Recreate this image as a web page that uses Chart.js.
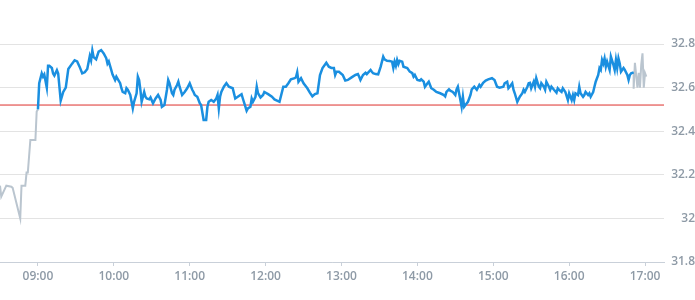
<!DOCTYPE html>
<html>
<head>
<meta charset="utf-8">
<script src="https://cdn.jsdelivr.net/npm/chart.js@4.4.1/dist/chart.umd.min.js"></script>
<style>
    html, body { margin: 0; padding: 0; background: #fff; }
</style>
</head>
<body>
<canvas id="priceChart" width="695" height="300"></canvas>
<script>
// pre-market (grey)
let preTimes = ["08:30", "08:31", "08:35", "08:39", "08:40", "08:46", "08:47", "08:50", "08:51", "08:52", "08:54", "08:58", "08:59", "09:00"];
let prePrices = [32.15, 32.10, 32.15, 32.145, 32.14, 32.00, 32.15, 32.15, 32.21, 32.21, 32.36, 32.36, 32.49, 32.50];

// trading session (blue)
let sessionTimes = [
    "09:00", "09:01", "09:03", "09:04", "09:05", "09:07", "09:08", "09:09", "09:11", "09:12", "09:13", "09:15", "09:16", "09:18", "09:20", "09:22", "09:24", "09:27", "09:29", "09:31",
    "09:33", "09:35", "09:37", "09:39", "09:41", "09:42", "09:43", "09:44", "09:46", "09:48", "09:50", "09:52", "09:54", "09:55", "09:56", "09:58", "09:59", "10:01", "10:02", "10:03",
    "10:05", "10:06", "10:07", "10:09", "10:10", "10:11", "10:13", "10:15", "10:16", "10:18", "10:19", "10:20", "10:21", "10:22", "10:24", "10:25", "10:26", "10:28", "10:29", "10:31",
    "10:33", "10:35", "10:37", "10:38", "10:40", "10:42", "10:43", "10:44", "10:46", "10:47", "10:48", "10:50", "10:51", "10:52", "10:54", "10:56", "10:58", "11:00", "11:02", "11:03",
    "11:04", "11:06", "11:08", "11:09", "11:11", "11:13", "11:14", "11:15", "11:17", "11:19", "11:21", "11:22", "11:23", "11:24", "11:25", "11:27", "11:29", "11:31", "11:34", "11:36",
    "11:38", "11:41", "11:42", "11:45", "11:46", "11:48", "11:49", "11:50", "11:52", "11:53", "11:54", "11:56", "11:58", "11:59", "12:02", "12:05", "12:07", "12:11", "12:14", "12:16",
    "12:18", "12:20", "12:23", "12:24", "12:25", "12:26", "12:28", "12:30", "12:33", "12:35", "12:37", "12:39", "12:41", "12:43", "12:45", "12:48", "12:50", "12:52", "12:54", "12:55",
    "12:56", "12:58", "13:01", "13:03", "13:05", "13:08", "13:11", "13:13", "13:14", "13:15", "13:17", "13:19", "13:20", "13:23", "13:24", "13:25", "13:27", "13:29", "13:31", "13:33",
    "13:34", "13:36", "13:38", "13:40", "13:41", "13:42", "13:43", "13:44", "13:45", "13:46", "13:48", "13:49", "13:52", "13:54", "13:56", "13:57", "13:58", "14:00", "14:02", "14:03",
    "14:05", "14:06", "14:08", "14:09", "14:11", "14:13", "14:15", "14:18", "14:21", "14:22", "14:23", "14:25", "14:26", "14:28", "14:30", "14:31", "14:32", "14:34", "14:35", "14:36",
    "14:37", "14:38", "14:40", "14:42", "14:43", "14:45", "14:47", "14:49", "14:50", "14:52", "14:54", "14:56", "14:59", "15:01", "15:03", "15:05", "15:08", "15:09", "15:11", "15:12",
    "15:13", "15:15", "15:16", "15:17", "15:19", "15:21", "15:23", "15:24", "15:25", "15:27", "15:28", "15:29", "15:30", "15:32", "15:33", "15:34", "15:36", "15:37", "15:38", "15:40",
    "15:41", "15:42", "15:44", "15:45", "15:46", "15:48", "15:50", "15:51", "15:52", "15:54", "15:55", "15:57", "15:59", "16:00", "16:02", "16:03", "16:04", "16:05", "16:07", "16:08",
    "16:09", "16:11", "16:12", "16:13", "16:15", "16:16", "16:17", "16:19", "16:20", "16:21", "16:23", "16:24", "16:25", "16:26", "16:27", "16:28", "16:29", "16:30", "16:32", "16:33",
    "16:35", "16:36", "16:37", "16:38", "16:39", "16:40", "16:41", "16:43", "16:44", "16:46", "16:47", "16:48", "16:49", "16:51"
];
let sessionPrices = [
    32.50, 32.62, 32.665, 32.65, 32.66, 32.60, 32.70, 32.70, 32.69, 32.665, 32.655, 32.68, 32.665, 32.54, 32.58, 32.60, 32.685, 32.71, 32.725, 32.72,
    32.695, 32.665, 32.67, 32.685, 32.745, 32.725, 32.77, 32.74, 32.73, 32.765, 32.772, 32.757, 32.735, 32.71, 32.72, 32.68, 32.66, 32.635, 32.65, 32.64,
    32.62, 32.597, 32.58, 32.574, 32.597, 32.59, 32.566, 32.505, 32.535, 32.574, 32.65, 32.635, 32.59, 32.535, 32.58, 32.558, 32.55, 32.546, 32.555, 32.528,
    32.55, 32.566, 32.543, 32.512, 32.52, 32.59, 32.635, 32.62, 32.574, 32.566, 32.59, 32.612, 32.627, 32.604, 32.566, 32.58, 32.597, 32.62, 32.59, 32.58,
    32.566, 32.558, 32.528, 32.52, 32.451, 32.451, 32.512, 32.535, 32.543, 32.535, 32.55, 32.566, 32.505, 32.558, 32.58, 32.604, 32.62, 32.604, 32.597, 32.55,
    32.558, 32.57, 32.55, 32.494, 32.505, 32.512, 32.55, 32.535, 32.558, 32.604, 32.574, 32.555, 32.566, 32.58, 32.57, 32.558, 32.546, 32.535, 32.604, 32.604,
    32.62, 32.638, 32.643, 32.647, 32.67, 32.627, 32.643, 32.62, 32.597, 32.577, 32.56, 32.57, 32.574, 32.658, 32.69, 32.714, 32.696, 32.69, 32.69, 32.658,
    32.673, 32.673, 32.658, 32.632, 32.635, 32.647, 32.658, 32.662, 32.65, 32.635, 32.658, 32.668, 32.662, 32.681, 32.673, 32.666, 32.662, 32.661, 32.696, 32.742,
    32.73, 32.723, 32.722, 32.719, 32.69, 32.719, 32.70, 32.727, 32.708, 32.723, 32.719, 32.696, 32.69, 32.673, 32.666, 32.65, 32.658, 32.635, 32.632, 32.638,
    32.627, 32.604, 32.62, 32.627, 32.597, 32.59, 32.58, 32.574, 32.566, 32.56, 32.58, 32.592, 32.586, 32.58, 32.566, 32.592, 32.604, 32.543, 32.512, 32.558,
    32.512, 32.52, 32.535, 32.566, 32.592, 32.604, 32.59, 32.612, 32.604, 32.622, 32.632, 32.638, 32.643, 32.635, 32.604, 32.60, 32.604, 32.62, 32.627, 32.597,
    32.604, 32.62, 32.59, 32.574, 32.535, 32.558, 32.574, 32.59, 32.58, 32.604, 32.62, 32.622, 32.597, 32.627, 32.604, 32.643, 32.604, 32.597, 32.62, 32.604,
    32.59, 32.627, 32.604, 32.59, 32.604, 32.59, 32.577, 32.597, 32.59, 32.58, 32.597, 32.58, 32.543, 32.574, 32.543, 32.566, 32.543, 32.574, 32.566, 32.604,
    32.574, 32.558, 32.566, 32.58, 32.566, 32.574, 32.558, 32.58, 32.604, 32.627, 32.658, 32.69, 32.681, 32.727, 32.71, 32.734, 32.696, 32.719, 32.681, 32.742,
    32.704, 32.681, 32.727, 32.69, 32.734, 32.711, 32.673, 32.69, 32.681, 32.658, 32.635, 32.658, 32.666, 32.67
];

// post-market (grey)
let postTimes = ["16:51", "16:51", "16:52", "16:54", "16:55", "16:56", "16:57", "16:58", "16:59", "17:00", "17:01"];
let postPrices = [32.67, 32.595, 32.714, 32.60, 32.668, 32.60, 32.704, 32.757, 32.60, 32.666, 32.65];

let previousClose = 32.52;
let hourLabels = ["09:00", "10:00", "11:00", "12:00", "13:00", "14:00", "15:00", "16:00", "17:00"];
let priceTicks = [31.8, 32, 32.2, 32.4, 32.6, 32.8];
let axisStart = "08:30";
let axisEnd = "17:15";

function toMinutes(hhmm) {
    let parts = hhmm.split(":");
    return parseInt(parts[0]) * 60 + parseInt(parts[1]);
}

function toLabel(minutes) {
    let h = Math.floor(minutes / 60);
    let m = Math.round(minutes % 60);
    return String(h).padStart(2, "0") + ":" + String(m).padStart(2, "0");
}

function toPoints(times, prices) {
    return times.map((t, i) => ({ x: toMinutes(t), y: prices[i] }));
}

let tickFont = { family: "'Open Sans', sans-serif", size: 12, weight: "600" };
let tickColor = "#8e9aa6";

new Chart(document.getElementById("priceChart"), {
    type: "line",
    data: {
        datasets: [
            {
                label: "Kurs",
                data: toPoints(sessionTimes, sessionPrices),
                borderColor: "#1a8fe0",
                borderWidth: 2.5,
                pointRadius: 0,
                tension: 0,
                fill: false,
            },
            {
                label: "Vorbörslich",
                data: toPoints(preTimes, prePrices),
                borderColor: "#bac5cf",
                borderWidth: 2,
                pointRadius: 0,
                tension: 0,
                fill: false,
            },
            {
                label: "Nachbörslich",
                data: toPoints(postTimes, postPrices),
                borderColor: "#bac5cf",
                borderWidth: 2,
                pointRadius: 0,
                tension: 0,
                fill: false,
            },
            {
                label: "Vortag",
                data: [{ x: toMinutes(axisStart), y: previousClose }, { x: toMinutes(axisEnd), y: previousClose }],
                borderColor: "#dd2f2b",
                borderWidth: 1,
                pointRadius: 0,
                fill: false,
            },
        ],
    },
    options: {
        responsive: false,
        animation: false,
        layout: { padding: { top: 44, left: 0, right: 0, bottom: 0 } },
        plugins: {
            legend: { display: false },
            tooltip: { enabled: false },
        },
        scales: {
            x: {
                type: "linear",
                min: toMinutes(axisStart),
                max: toMinutes(axisEnd),
                afterBuildTicks: (scale) => {
                    scale.ticks = hourLabels.map(h => ({ value: toMinutes(h) }));
                },
                afterFit: (scale) => { scale.height = 38; },
                grid: {
                    drawOnChartArea: false,
                    drawTicks: true,
                    tickLength: 4,
                    color: "#c9d0d9",
                },
                border: { display: true, color: "#c9d0d9" },
                ticks: {
                    padding: 3,
                    maxRotation: 0,
                    autoSkip: false,
                    color: tickColor,
                    font: tickFont,
                    callback: (v) => toLabel(v),
                },
            },
            y: {
                position: "right",
                min: priceTicks[0],
                max: priceTicks[priceTicks.length - 1],
                afterBuildTicks: (scale) => {
                    scale.ticks = priceTicks.map(v => ({ value: v }));
                },
                afterFit: (scale) => { scale.width = 31; },
                grid: {
                    drawTicks: false,
                    tickLength: 0,
                    color: "#e3e3e3",
                },
                border: { display: false },
                ticks: {
                    crossAlign: "far",
                    padding: 0,
                    color: tickColor,
                    font: tickFont,
                    callback: (v) => String(Number(v.toFixed(1))),
                },
            },
        },
    },
});
</script>
</body>
</html>
